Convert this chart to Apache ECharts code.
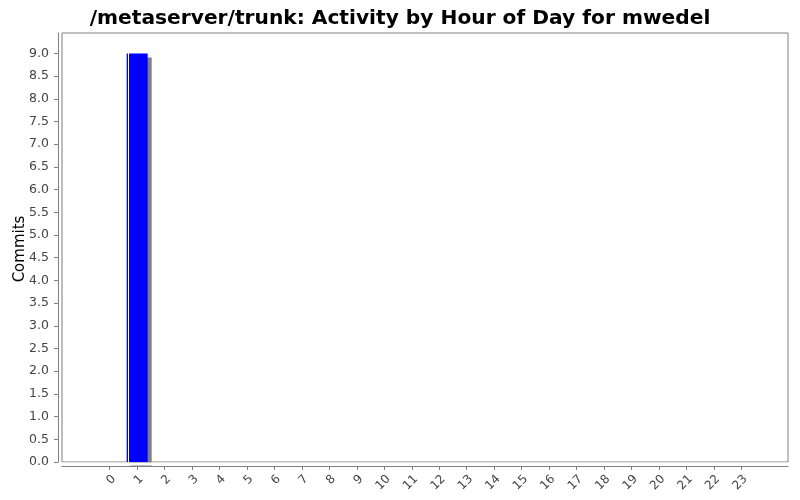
<!DOCTYPE html>
<html><head><meta charset="utf-8">
<script src="https://cdn.jsdelivr.net/npm/echarts@6/dist/echarts.min.js"></script>
<style>html,body{margin:0;padding:0;background:#fff}#c{width:800px;height:500px}</style>
</head><body><div id="c"></div>
<script>
const titleText = '/metaserver/trunk: Activity by Hour of Day for mwedel';
const yAxisTitle = 'Commits';
const hours = ['0','1','2','3','4','5','6','7','8','9','10','11','12','13','14','15','16','17','18','19','20','21','22','23'];
const commits = [0,9,0,0,0,0,0,0,0,0,0,0,0,0,0,0,0,0,0,0,0,0,0,0];
const yMax = 9.45;

const chart = echarts.init(document.getElementById('c'), null, {renderer:'canvas'});
const font = 'DejaVu Sans';
chart.setOption({
  animation:false,
  backgroundColor:'#fff',
  title:{text:titleText,left:'center',top:4,textStyle:{fontFamily:font,fontWeight:'bold',fontSize:20.2,color:'#000'}},
  grid:[
    {left:62,right:12,top:33,bottom:38,show:true,borderColor:'#808080',borderWidth:1,backgroundColor:'#fff',containLabel:false,outerBoundsMode:'none'},
    {left:96,right:45,top:33,bottom:38,containLabel:false,outerBoundsMode:'none'}
  ],
  graphic:[
    {type:'rect',z:100,shape:{x:62,y:462.6,width:727,height:3},style:{fill:'#fff'},silent:true},
    {type:'text',x:20,y:249,rotation:Math.PI/2,silent:true,
     style:{text:yAxisTitle,fontFamily:font,fontSize:15,fill:'#000',align:'center',verticalAlign:'middle'}}
  ],
  xAxis:[
    {gridIndex:0,type:'value',min:0,max:1,offset:4,axisLine:{show:true,onZero:false,lineStyle:{color:'#808080'}},axisTick:{show:false},axisLabel:{show:false},splitLine:{show:false}},
    {gridIndex:1,type:'category',data:hours,boundaryGap:true,offset:4,
     axisLine:{show:false,onZero:false},axisTick:{show:true,alignWithLabel:true,length:4,lineStyle:{color:'#808080'}},
     axisLabel:{rotate:45,margin:7,verticalAlign:'top',fontFamily:font,fontSize:12,color:'#444'},splitLine:{show:false}}
  ],
  yAxis:[
    {gridIndex:0,type:'value',min:0,max:yMax,interval:0.5,offset:4,
     axisLine:{show:true,onZero:false,lineStyle:{color:'#808080'}},axisTick:{show:true,length:4,lineStyle:{color:'#808080'}},
     axisLabel:{showMaxLabel:false,margin:9,fontFamily:font,fontSize:12.5,color:'#444',formatter:v=>v.toFixed(1)},splitLine:{show:false}},
    {gridIndex:1,type:'value',min:0,max:yMax,show:false}
  ],
  series:[{
    type:'bar',xAxisIndex:1,yAxisIndex:1,data:commits.map(v=>v===0?null:v),barWidth:21,
    itemStyle:{
      color:new echarts.graphic.LinearGradient(0,0,1,0,[
        {offset:0,color:'#0000ff'},{offset:0.06,color:'#0000ff'},
        {offset:0.06,color:'#ffffff'},{offset:0.13,color:'#ffffff'},
        {offset:0.13,color:'#0000ff'},{offset:1,color:'#0000ff'}]),
      shadowColor:'#808080',shadowOffsetX:4,shadowOffsetY:4,shadowBlur:0
    }
  }]
});
</script></body></html>
